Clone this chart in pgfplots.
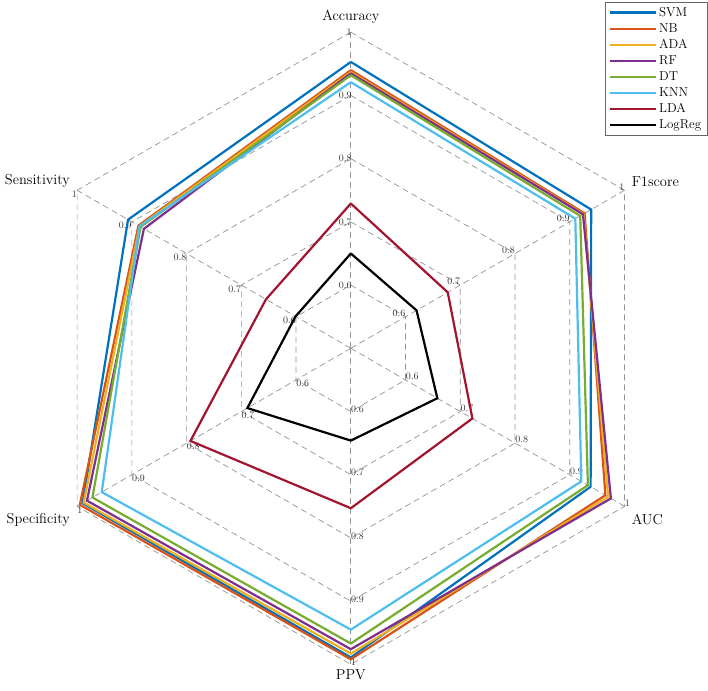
\documentclass[border=0pt]{standalone}
\usepackage{fontspec}
\usepackage{pgfplots}
\pgfplotsset{compat=1.18}
\usepackage{pgfplotstable}

\definecolor{cSVM}{rgb}{0,0.447,0.741}
\definecolor{cNB}{rgb}{0.85,0.325,0.098}
\definecolor{cADA}{rgb}{0.929,0.694,0.125}
\definecolor{cRF}{rgb}{0.494,0.184,0.556}
\definecolor{cDT}{rgb}{0.466,0.674,0.188}
\definecolor{cKNN}{rgb}{0.301,0.745,0.933}
\definecolor{cLDA}{rgb}{0.635,0.078,0.184}

% Accuracy 90, F1score 30, AUC -30, PPV -90, Specificity -150, Sensitivity 150
\pgfplotstableread{
ang  SVM   NB    ADA   RF    DT    KNN   LDA   LogReg
90   0.953 0.940 0.937 0.935 0.932 0.921 0.729 0.650
30   0.939 0.927 0.925 0.924 0.919 0.910 0.677 0.620
-30  0.938 0.965 0.970 0.975 0.933 0.921 0.722 0.658
-90  0.989 0.992 0.983 0.976 0.967 0.945 0.753 0.646
-150 0.990 0.995 0.988 0.982 0.972 0.955 0.793 0.689
150  0.907 0.888 0.886 0.878 0.884 0.886 0.655 0.601
90   0.953 0.940 0.937 0.935 0.932 0.921 0.729 0.650
}\data

\tikzset{gridl/.style={gray!85, dash pattern=on 6bp off 4bp, line width=0.7bp},
tl/.style={font=\fontsize{10}{11}\selectfont, text=black!80, inner sep=1pt},
al/.style={font=\fontsize{14.5}{16}\selectfont, inner sep=0pt}}

\begin{document}
\begin{tikzpicture}
\begin{axis}[x=632bp,y=632bp,
  xmin=-0.555,xmax=0.565,ymin=-0.541,ymax=0.551,
  hide axis, clip=false,
  legend style={at={(0.999,0.997)},anchor=north east, draw=black!60,
    font=\fontsize{13}{15}\selectfont, row sep=1.6pt, inner xsep=4pt, inner ysep=3pt,
    cells={anchor=west}},
  legend image code/.code={\draw[#1,line width=2.2bp] (0bp,0bp) -- (46bp,0bp);},
  every axis plot/.append style={line width=2.2bp, line join=miter},
]
% grid hexagons
\pgfplotsinvokeforeach{0.1,0.2,0.3,0.4,0.5}{
  \addplot[gridl, line width=0.7bp, forget plot] table[x expr={#1*cos(\thisrow{ang})}, y expr={#1*sin(\thisrow{ang})}]{\data};
}
% spokes
\pgfplotsinvokeforeach{90,30,-30,-90,-150,150}{
  \addplot[gridl, line width=0.7bp, forget plot] coordinates {(0,0) ({0.5*cos(#1)},{0.5*sin(#1)})};
}
% tick labels
\pgfplotsinvokeforeach{0.6,0.7,0.8,0.9,1}{
  \node[tl,anchor=east,xshift=2bp] at (axis cs:0,{#1-0.5}) {#1};
  \node[tl,anchor=south east,xshift=1bp,yshift=-1bp] at (axis cs:{(#1-0.5)*0.8660},{(#1-0.5)*0.5}) {#1};
  \node[tl,anchor=south west,xshift=-1bp,yshift=-1bp] at (axis cs:{(#1-0.5)*0.8660},{-(#1-0.5)*0.5}) {#1};
  \node[tl,anchor=west,xshift=-1bp,yshift=2bp] at (axis cs:0,{-(#1-0.5)}) {#1};
  \node[tl,anchor=north west,xshift=-1bp,yshift=1bp] at (axis cs:{-(#1-0.5)*0.8660},{-(#1-0.5)*0.5}) {#1};
  \node[tl,anchor=north east,xshift=1bp,yshift=1bp] at (axis cs:{-(#1-0.5)*0.8660},{(#1-0.5)*0.5}) {#1};
}
% data
\addplot[cSVM] table[x expr={(\thisrow{SVM}-0.5)*cos(\thisrow{ang})}, y expr={(\thisrow{SVM}-0.5)*sin(\thisrow{ang})}]{\data};
\addlegendentry{SVM}
\addplot[cNB] table[x expr={(\thisrow{NB}-0.5)*cos(\thisrow{ang})}, y expr={(\thisrow{NB}-0.5)*sin(\thisrow{ang})}]{\data};
\addlegendentry{NB}
\addplot[cADA] table[x expr={(\thisrow{ADA}-0.5)*cos(\thisrow{ang})}, y expr={(\thisrow{ADA}-0.5)*sin(\thisrow{ang})}]{\data};
\addlegendentry{ADA}
\addplot[cRF] table[x expr={(\thisrow{RF}-0.5)*cos(\thisrow{ang})}, y expr={(\thisrow{RF}-0.5)*sin(\thisrow{ang})}]{\data};
\addlegendentry{RF}
\addplot[cDT] table[x expr={(\thisrow{DT}-0.5)*cos(\thisrow{ang})}, y expr={(\thisrow{DT}-0.5)*sin(\thisrow{ang})}]{\data};
\addlegendentry{DT}
\addplot[cKNN] table[x expr={(\thisrow{KNN}-0.5)*cos(\thisrow{ang})}, y expr={(\thisrow{KNN}-0.5)*sin(\thisrow{ang})}]{\data};
\addlegendentry{KNN}
\addplot[cLDA] table[x expr={(\thisrow{LDA}-0.5)*cos(\thisrow{ang})}, y expr={(\thisrow{LDA}-0.5)*sin(\thisrow{ang})}]{\data};
\addlegendentry{LDA}
\addplot[black] table[x expr={(\thisrow{LogReg}-0.5)*cos(\thisrow{ang})}, y expr={(\thisrow{LogReg}-0.5)*sin(\thisrow{ang})}]{\data};
\addlegendentry{LogReg}
% axis labels
\node[al,anchor=south,yshift=9bp] at (axis cs:0,0.5) {Accuracy};
\node[al,anchor=south west,xshift=7bp,yshift=3bp] at (axis cs:0.4330,0.25) {F1score};
\node[al,anchor=north west,xshift=7bp,yshift=-8bp] at (axis cs:0.4330,-0.25) {AUC};
\node[al,anchor=north,yshift=-5bp] at (axis cs:0,-0.5) {PPV};
\node[al,anchor=north east,xshift=-7bp,yshift=-7bp] at (axis cs:-0.4330,-0.25) {Specificity};
\node[al,anchor=south east,xshift=-7bp,yshift=3bp] at (axis cs:-0.4330,0.25) {Sensitivity};
\end{axis}
\pgfresetboundingbox
\path[use as bounding box] (current axis.south west) rectangle (current axis.north east);
\end{tikzpicture}
\end{document}
